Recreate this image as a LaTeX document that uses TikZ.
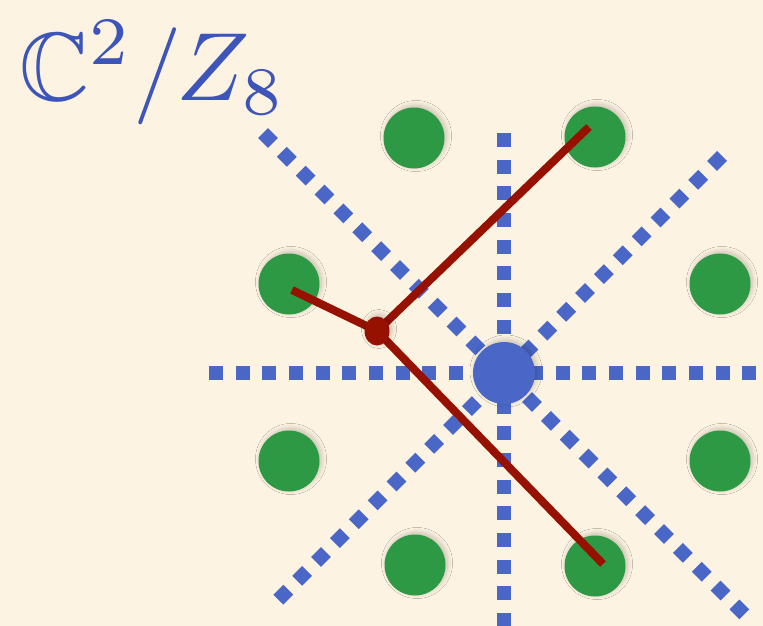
\documentclass[tikz,border=0pt]{standalone}
\usepackage{amssymb}
\usetikzlibrary{shadows.blur,shapes.geometric}
\definecolor{bg}{HTML}{FDF3E2}
\definecolor{dotblue}{HTML}{4A67C8}
\definecolor{txtblue}{HTML}{3D55B9}
\definecolor{dotgreen}{HTML}{2E9944}
\definecolor{linered}{HTML}{971100}
\tikzset{
  dotline/.style={draw=dotblue,line width=14pt,line cap=butt,dash pattern=on 14pt off 12.67pt},
  softshadow/.style={blur shadow={shadow xshift=2pt,shadow yshift=2pt,shadow blur radius=5pt,shadow blur steps=10,shadow opacity=22}},
  greendot/.style={circle,fill=dotgreen,minimum size=61pt,inner sep=0pt,softshadow},
  bluedot/.style={circle,fill=dotblue,minimum size=62pt,inner sep=0pt,softshadow},
  reddot/.style={ellipse,fill=linered,minimum width=25pt,minimum height=29pt,inner sep=0pt,softshadow},
  redline/.style={draw=linered,line width=8pt,line cap=butt}
}
\begin{document}
\begin{tikzpicture}[x=1pt,y=-1pt]
\fill[bg] (0,0) rectangle (763,626);
\useasboundingbox (0,0) rectangle (763,626);
% dotted axes
\coordinate (hA) at (209,373); \coordinate (hB) at (763,373);
\coordinate (vA) at (504,133); \coordinate (vB) at (504,626);
\coordinate (dA) at (263,133); \coordinate (dB) at (745,615);
\coordinate (eA) at (722,156); \coordinate (eB) at (277,601);
\draw[dotline] (hA) -- (hB);
\draw[dotline] (vA) -- (vB);
\draw[dotline] (dA) -- (dB);
\draw[dotline] (eA) -- (eB);
% centre
\node (c) [bluedot] at (504,373) {};
% green dots
\node (g1) [greendot] at (414,138) {};
\node (g2) [greendot] at (595,137) {};
\node (g3) [greendot] at (289,284) {};
\node (g4) [greendot] at (720,284) {};
\node (g5) [greendot] at (289,461) {};
\node (g6) [greendot] at (720,461) {};
\node (g7) [greendot] at (415,565) {};
\node (g8) [greendot] at (595,566) {};
% red
\coordinate (rA) at (589,127);
\coordinate (rB) at (292,290);
\coordinate (rC) at (603,564);
\coordinate (rc) at (377,331);
\draw[redline] (rc) -- (rA);
\draw[redline] (rc) -- (rB);
\draw[redline] (rc) -- (rC);
\node (r) [reddot] at (rc) {};
% title
\node (t) [anchor=base west,inner sep=0pt,text=txtblue,scale=9.7] at (18,100) {$\mathbb{C}^2/Z_8$};
\end{tikzpicture}
\end{document}
